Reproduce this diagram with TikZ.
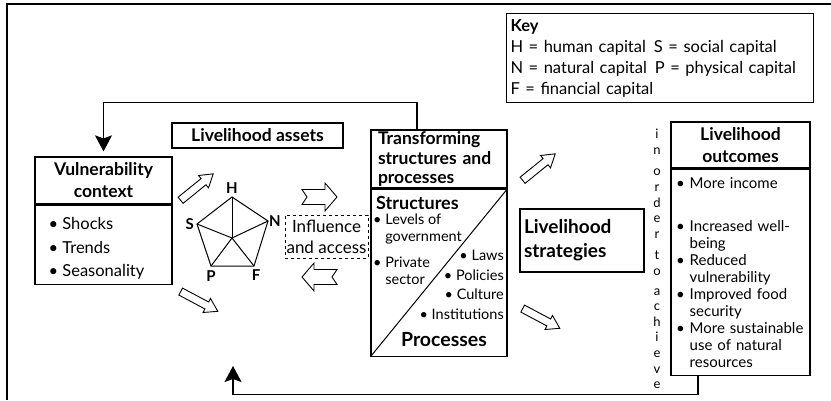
\documentclass[tikz,border=0pt]{standalone}
\usepackage{fontspec}
\setmainfont{Lato}
\usetikzlibrary{positioning,arrows.meta,shapes.arrows}
\newcommand{\fsz}[2]{\fontsize{#1}{#2}\selectfont}
\newcommand{\bul}{\textbullet\ }
\newcommand{\nobul}{\phantom{\textbullet\ }}
% hollow block arrow with a notched tail, #1 = tip, #2 = 1 (right) or -1 (left)
\newcommand{\notcharrow}[2]{%
  \draw[hollow, shift={(#1)}, xscale=#2] (0,0) -- (-12,-14) -- (-12,-7.5) -- (-35,-7.5)
    -- (-30,0) -- (-35,7.5) -- (-12,7.5) -- (-12,14) -- cycle;}
\tikzset{
  box/.style={draw, line width=1.2pt, inner sep=0pt, align=center},
  headf/.style={font=\fsz{17.5}{22}\bfseries},
  itemf/.style={font=\fsz{16.5}{23.5}, align=left},
  capf/.style={font=\fsz{15}{18}\bfseries, inner sep=0pt},
  feed/.style={-{Stealth[length=16pt, width=17pt, inset=3pt]}, line width=1.3pt},
  hollow/.style={draw, line width=0.9pt, fill=white, line join=miter},
  thinarrow/.style={single arrow, draw, line width=0.9pt, inner xsep=0pt, inner ysep=3.5pt,
    single arrow head extend=4pt, single arrow tip angle=65, minimum height=42pt},
}

\begin{document}
\begin{tikzpicture}[x=1pt, y=-1pt]
  \useasboundingbox (0,0) rectangle (831,400);
  % frame
  \draw[line width=1.3pt] (7,400) -- (7,4) -- (831,4);
  % key
  \node[box, anchor=north west, align=left, font=\fsz{16.5}{21}, minimum width=307pt, minimum height=89pt,
    text width=299pt, inner xsep=3pt] (key) at (506,13)
    {\textbf{Key}\\H = human capital\hspace{8pt}S = social capital\\
     N = natural capital\hspace{8pt}P = physical capital\\F = financial capital};
  % vulnerability context
  \node[box, headf, minimum width=137pt, minimum height=47pt] (vultitle) at (103.5,180.5) {Vulnerability\\context};
  \node[box, anchor=north, minimum width=137pt, minimum height=79pt] (vulbody) at (vultitle.south) {};
  \node[itemf, anchor=west, inner sep=0pt, yshift=-4pt] (vulitems) at ([xshift=14pt]vulbody.west)
    {\bul Shocks\\\bul Trends\\\bul Seasonality};
  % livelihood assets
  \node[box, headf, minimum width=171pt, minimum height=25pt] (assets) at (257.5,135.5) {Livelihood assets};
  \coordinate (pc) at (232,238);
  \coordinate (pH) at (232,197);
  \coordinate (pN) at (268,221);
  \coordinate (pF) at (254,266);
  \coordinate (pP) at (211,266);
  \coordinate (pS) at (197,224);
  \draw[line width=1pt] (pH) -- (pN) -- (pF) -- (pP) -- (pS) -- cycle;
  \foreach \c in {pH,pN,pF,pP,pS}
    \draw[line width=1pt] (pc) -- (\c);
  \node[capf, above=3pt of pH] (labH) {H};
  \node[capf, left=3pt of pS] (labS) {S};
  \node[capf, right=1pt of pN] (labN) {N};
  \node[capf, below=4pt of pP] (labP) {P};
  \node[capf, below=3pt of pF, xshift=2pt] (labF) {F};
  \node[box, dashed, line width=0.6pt, font=\fsz{17}{21}, minimum width=83pt, minimum height=43pt]
    (infl) at (326.5,236.5) {Influence\\and access};
  % transforming structures and processes
  \node[box, align=left, font=\fsz{17.5}{19.5}\bfseries, minimum width=136pt, minimum height=58pt,
    text width=122pt, inner xsep=7pt] (transtitle) at (439,159) {Transforming\\structures and\\processes};
  \node[box, anchor=north, minimum width=136pt, minimum height=167pt] (transbody) at (transtitle.south) {};
  \draw[line width=1pt] (transbody.south west) -- (transbody.north east);
  \node[anchor=west, font=\fsz{18}{19}\bfseries, inner sep=0pt] (structs) at (376,203) {Structures};
  \node[anchor=north west, align=left, font=\fsz{14.5}{17}, inner sep=0pt] (structitems) at (373,214)
    {\bul Levels of\\\nobul government\\[9pt]\bul Private\\\nobul sector};
  \node[anchor=north east, align=right, font=\fsz{14.5}{19.7}, inner sep=0pt] (procitems) at (504,250)
    {\bul Laws\\\bul Policies\\\bul Culture\\\bul Institutions};
  \node[font=\fsz{19.5}{20}\bfseries, inner sep=0pt] (procs) at (444,340) {Processes};
  % strategies and outcomes
  \node[box, align=left, font=\fsz{19}{24}\bfseries, minimum width=124pt, minimum height=63pt,
    text width=116pt, inner xsep=4pt] (strat) at (582,240.5) {Livelihood\\strategies};
  \node[box, headf, minimum width=139pt, minimum height=46pt] (outtitle) at (740.5,145) {Livelihood\\outcomes};
  \node[box, anchor=north, align=left, font=\fsz{15}{17}, minimum width=139pt, minimum height=206pt,
    text width=129pt, inner xsep=5pt] (outbody) at (outtitle.south)
    {\bul More income\\[26pt]\bul Increased well-\\\nobul being\\\bul Reduced\\\nobul vulnerability\\
     \bul Improved food\\\nobul security\\\bul More sustainable\\\nobul use of natural\\\nobul resources};
  \node[font=\fsz{13}{15.6}, align=center, inner sep=0pt] (achieve) at (657,259)
    {i\\n\\[6pt]o\\r\\d\\e\\r\\[6pt]t\\o\\[4pt]a\\c\\h\\i\\e\\v\\e};
  % feedback loops
  \draw[feed, shorten >=5pt] ([xshift=-22pt]transtitle.north) -- ++(0,-27) -| (vultitle.north);
  \coordinate (backtip) at (233,366);
  \draw[feed] ([xshift=-42.5pt]outbody.south) -- ++(0,19) -| (backtip);
  % block arrows
  \notcharrow{337,197}{1}
  \notcharrow{302,277}{-1}
  \node[thinarrow, rotate=39] (upA) at (194.5,189) {};
  \node[thinarrow, rotate=-28] (downA) at (196.5,300) {};
  \node[thinarrow, rotate=39] (upB) at (536.5,169) {};
  \node[thinarrow, rotate=-28] (downB) at (538.5,317) {};
\end{tikzpicture}
\end{document}
